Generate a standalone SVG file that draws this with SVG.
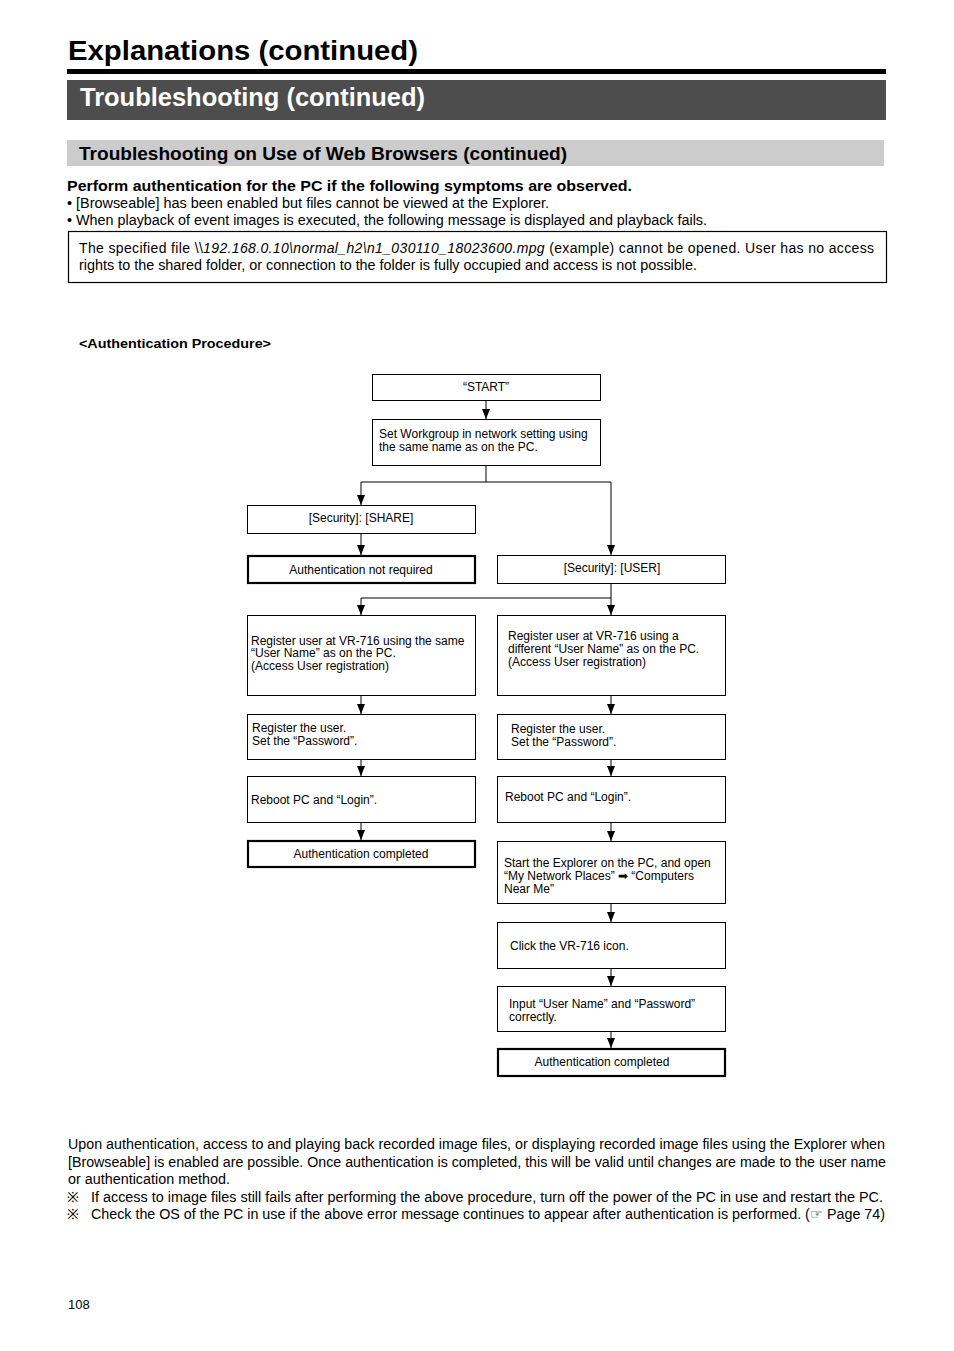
<svg xmlns="http://www.w3.org/2000/svg" width="954" height="1351" viewBox="0 0 954 1351">
<style>
text{font-family:"Liberation Sans",Arial,sans-serif;fill:#000}
.b{font-weight:bold}
.body{font-size:14px}
.fc{font-size:12px}
.c{text-anchor:middle}
.box{fill:#fff;stroke:#000;stroke-width:1}
.tbox{fill:#fff;stroke:#000;stroke-width:2.2}
.con{fill:none;stroke:#000;stroke-width:1}
</style>
<defs>
<marker id="ah" markerWidth="10" markerHeight="8" refX="10" refY="4" orient="auto" markerUnits="userSpaceOnUse" viewBox="0 0 10 8">
<path d="M0,0 L10,4 L0,8 Z" fill="#000"/>
</marker>
</defs>
<rect width="954" height="1351" fill="#fff"/>

<!-- header -->
<g id="header">
<text x="68" y="60" class="b" font-size="28" textLength="350" lengthAdjust="spacingAndGlyphs">Explanations (continued)</text>
<rect x="67" y="69" width="819" height="5" fill="#000"/>
<rect x="67" y="80" width="819" height="40" fill="#4d4d4d"/>
<text x="80" y="106" class="b" font-size="25" textLength="345" lengthAdjust="spacingAndGlyphs" style="fill:#fff">Troubleshooting (continued)</text>
<rect x="67" y="140" width="817" height="26" fill="#cccccc"/>
<text x="79" y="160" class="b" font-size="18" textLength="488" lengthAdjust="spacingAndGlyphs">Troubleshooting on Use of Web Browsers (continued)</text>
</g>

<g id="intro">
<text x="67" y="191" class="b" font-size="15" textLength="565" lengthAdjust="spacingAndGlyphs">Perform authentication for the PC if the following symptoms are observed.</text>
<text x="67" y="208" class="body" textLength="482" lengthAdjust="spacingAndGlyphs">•  [Browseable] has been enabled but files cannot be viewed at the Explorer.</text>
<text x="67" y="225" class="body" textLength="640" lengthAdjust="spacingAndGlyphs">•  When playback of event images is executed, the following message is displayed and playback fails.</text>
<rect x="68.5" y="231.5" width="818" height="51" fill="none" stroke="#000" stroke-width="1.2"/>
<text x="79" y="253" class="body" textLength="795" lengthAdjust="spacing">The specified file \\<tspan font-style="italic">192.168.0.10\normal_h2\n1_030110_18023600.mpg</tspan> (example) cannot be opened. User has no access</text>
<text x="79" y="270" class="body" textLength="618" lengthAdjust="spacingAndGlyphs">rights to the shared folder, or connection to the folder is fully occupied and access is not possible.</text>
<text x="79" y="348" class="b" font-size="13" textLength="192" lengthAdjust="spacingAndGlyphs">&lt;Authentication Procedure&gt;</text>
</g>

<!-- connectors -->
<g id="connectors" class="con">
<line x1="486" y1="400" x2="486" y2="419" marker-end="url(#ah)"/>
<polyline points="486,465 486,482 361,482 361,505" marker-end="url(#ah)"/>
<polyline points="486,482 611,482 611,555" marker-end="url(#ah)"/>
<line x1="361" y1="533" x2="361" y2="555" marker-end="url(#ah)"/>
<polyline points="611,583 611,598 361,598 361,615" marker-end="url(#ah)"/>
<line x1="611" y1="598" x2="611" y2="615" marker-end="url(#ah)"/>
<line x1="361" y1="695" x2="361" y2="714" marker-end="url(#ah)"/>
<line x1="611" y1="695" x2="611" y2="714" marker-end="url(#ah)"/>
<line x1="361" y1="759" x2="361" y2="776" marker-end="url(#ah)"/>
<line x1="611" y1="759" x2="611" y2="776" marker-end="url(#ah)"/>
<line x1="361" y1="822" x2="361" y2="840" marker-end="url(#ah)"/>
<line x1="611" y1="822" x2="611" y2="841" marker-end="url(#ah)"/>
<line x1="611" y1="903" x2="611" y2="922" marker-end="url(#ah)"/>
<line x1="611" y1="968" x2="611" y2="986" marker-end="url(#ah)"/>
<line x1="611" y1="1031" x2="611" y2="1048" marker-end="url(#ah)"/>
</g>

<!-- nodes -->
<g id="start"><rect class="box" x="372.5" y="374.5" width="228" height="26"/><text class="fc c" x="486" y="391">“START”</text></g>
<g id="workgroup"><rect class="box" x="372.5" y="419.5" width="228" height="46"/>
<text class="fc" x="379" y="438">Set Workgroup in network setting using</text>
<text class="fc" x="379" y="451">the same name as on the PC.</text></g>
<g id="share"><rect class="box" x="247.5" y="505.5" width="228" height="28"/><text class="fc c" x="361" y="522">[Security]: [SHARE]</text></g>
<g id="notreq"><rect class="tbox" x="248" y="556" width="227" height="27"/><text class="fc c" x="361" y="574">Authentication not required</text></g>
<g id="user"><rect class="box" x="497.5" y="555.5" width="228" height="28"/><text class="fc c" x="612" y="572">[Security]: [USER]</text></g>
<g id="regsame"><rect class="box" x="247.5" y="615.5" width="228" height="80"/>
<text class="fc" x="251" y="645">Register user at VR-716 using the same</text>
<text class="fc" x="251" y="657">“User Name” as on the PC.</text>
<text class="fc" x="251" y="670">(Access User registration)</text></g>
<g id="regdiff"><rect class="box" x="497.5" y="615.5" width="228" height="80"/>
<text class="fc" x="508" y="640">Register user at VR-716 using a</text>
<text class="fc" x="508" y="653">different “User Name” as on the PC.</text>
<text class="fc" x="508" y="666">(Access User registration)</text></g>
<g id="pwleft"><rect class="box" x="247.5" y="714.5" width="228" height="45"/>
<text class="fc" x="252" y="732">Register the user.</text>
<text class="fc" x="252" y="745">Set the “Password”.</text></g>
<g id="pwright"><rect class="box" x="497.5" y="714.5" width="228" height="45"/>
<text class="fc" x="511" y="733">Register the user.</text>
<text class="fc" x="511" y="746">Set the “Password”.</text></g>
<g id="rebootleft"><rect class="box" x="247.5" y="776.5" width="228" height="46"/><text class="fc" x="251" y="804">Reboot PC and “Login”.</text></g>
<g id="rebootright"><rect class="box" x="497.5" y="776.5" width="228" height="46"/><text class="fc" x="505" y="801">Reboot PC and “Login”.</text></g>
<g id="doneleft"><rect class="tbox" x="248" y="841" width="227" height="26"/><text class="fc c" x="361" y="858">Authentication completed</text></g>
<g id="explorer"><rect class="box" x="497.5" y="841.5" width="228" height="62"/>
<text class="fc" x="504" y="867">Start the Explorer on the PC, and open</text>
<text class="fc" x="504" y="880">“My Network Places” ➡ “Computers</text>
<text class="fc" x="504" y="893">Near Me”</text></g>
<g id="click"><rect class="box" x="497.5" y="922.5" width="228" height="46"/><text class="fc" x="510" y="950">Click the VR-716 icon.</text></g>
<g id="input"><rect class="box" x="497.5" y="986.5" width="228" height="45"/>
<text class="fc" x="509" y="1008">Input “User Name” and “Password”</text>
<text class="fc" x="509" y="1021">correctly.</text></g>
<g id="doneright"><rect class="tbox" x="498" y="1049" width="227" height="27"/><text class="fc c" x="602" y="1066">Authentication completed</text></g>

<g id="footer">
<text x="68" y="1149" class="body" textLength="817" lengthAdjust="spacingAndGlyphs">Upon authentication, access to and playing back recorded image files, or displaying recorded image files using the Explorer when</text>
<text x="68" y="1167" class="body" textLength="818" lengthAdjust="spacingAndGlyphs">[Browseable] is enabled are possible. Once authentication is completed, this will be valid until changes are made to the user name</text>
<text x="68" y="1184" class="body" textLength="162" lengthAdjust="spacingAndGlyphs">or authentication method.</text>
<text x="67" y="1202" class="body" font-family="'Noto Sans CJK JP',sans-serif">※</text>
<text x="91" y="1202" class="body" textLength="792" lengthAdjust="spacingAndGlyphs">If access to image files still fails after performing the above procedure, turn off the power of the PC in use and restart the PC.</text>
<text x="67" y="1219" class="body" font-family="'Noto Sans CJK JP',sans-serif">※</text>
<text x="91" y="1219" class="body" textLength="794" lengthAdjust="spacingAndGlyphs">Check the OS of the PC in use if the above error message continues to appear after authentication is performed. (☞ Page 74)</text>
<text x="68" y="1309" font-size="13">108</text>
</g>
</svg>
